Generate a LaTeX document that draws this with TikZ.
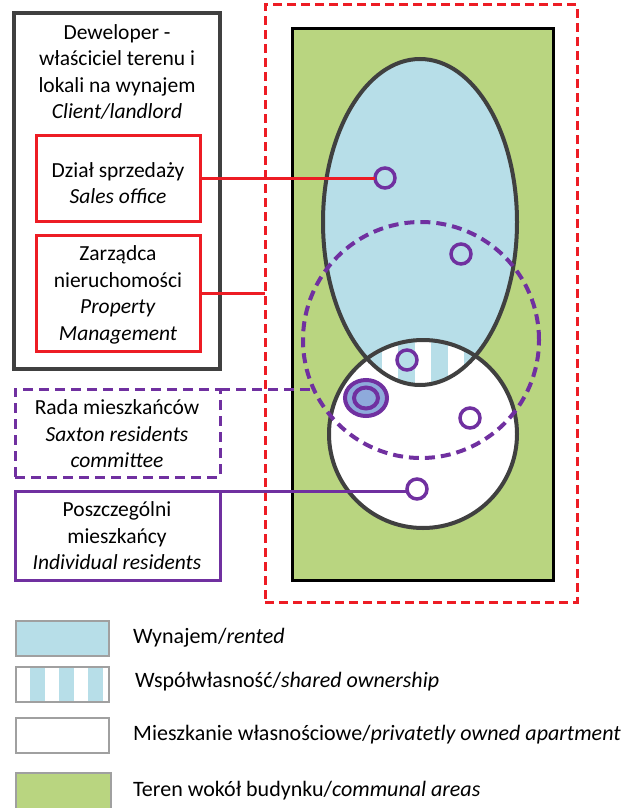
\documentclass[tikz,border=0pt]{standalone}
\usepackage{fontspec}
\setmainfont{Carlito}
\usetikzlibrary{shapes.geometric}
\definecolor{rentblue}{RGB}{183,222,232}
\definecolor{grassgreen}{RGB}{185,213,128}
\definecolor{violetline}{RGB}{112,48,160}
\definecolor{redline}{RGB}{237,28,36}
\definecolor{darkline}{RGB}{64,64,64}
\definecolor{midblue}{RGB}{142,170,219}
\definecolor{leggray}{RGB}{160,160,160}
\begin{document}
\begin{tikzpicture}[x=1pt,y=-1pt,
  lbl/.style={align=center, font=\fontsize{21.5}{26.5}\selectfont, inner sep=0pt},
  legtxt/.style={anchor=west, font=\fontsize{22}{26}\selectfont, inner sep=0pt},
  frame/.style={inner sep=0pt, outer sep=0pt, anchor=north west},
  devbox/.style={frame, draw=darkline, line width=3.5pt},
  redbox/.style={frame, draw=redline, line width=3pt, minimum width=164pt},
  purplebox/.style={frame, draw=violetline, line width=3pt, minimum width=205pt},
  legbox/.style={frame, draw=leggray, line width=1.2pt, minimum width=93pt, minimum height=35pt},
  flat/.style={draw=violetline, line width=3.5pt, circle, minimum size=20pt, inner sep=0pt, outer sep=0pt},
  purpledash/.style={dash pattern=on 10pt off 6pt},
  reddash/.style={dash pattern=on 9pt off 5pt}
]
\useasboundingbox (0,0) rectangle (626,808);

% site
\node[frame, draw=redline, line width=3pt, reddash, minimum width=312pt, minimum height=597pt] (site) at (265,5) {};
\node[frame, draw=black, fill=grassgreen, line width=3pt, minimum width=261pt, minimum height=551pt] (green) at (292,29) {};

% rented ellipse and owned circle fills
\fill[rentblue] (420,222) ellipse [x radius=97, y radius=163];
\fill[white] (423,434) circle [radius=94];
\begin{scope}
  \clip (420,222) ellipse [x radius=97, y radius=163];
  \clip (423,434) circle [radius=94];
  \fill[white] (320,330) rectangle (520,400);
  \foreach \sx in {365,398,431,464} {\fill[rentblue] (\sx,330) rectangle (\sx+16.5,400);}
\end{scope}
\node[draw=darkline, line width=4pt, ellipse, minimum width=194pt, minimum height=326pt, inner sep=0pt] (rented) at (420,222) {};
\node[draw=darkline, line width=4pt, circle, minimum size=188pt, inner sep=0pt] (owned) at (423,434) {};

% residents council dashed circle
\node[draw=violetline, line width=4pt, purpledash, circle, minimum size=236pt, inner sep=0pt, outer sep=0pt] (council) at (421,340) {};

% small apartment circles
\node[flat] (c1) at (385,178) {};
\node[flat] (c2) at (461,254) {};
\node[flat] (c3) at (407,360) {};
\node[draw=violetline, line width=4pt, fill=midblue, ellipse, minimum width=42pt, minimum height=36pt, inner sep=0pt] (c4) at (366,398) {};
\node[draw=violetline, line width=4pt, fill=midblue, ellipse, minimum width=24pt, minimum height=21pt, inner sep=0pt] (c4in) at (366,398) {};
\node[flat] (c5) at (470,418) {};
\node[flat] (c6) at (417,489) {};

% left boxes
\node[devbox, minimum width=206pt, minimum height=356pt] (dev) at (14,13) {};
\node[lbl] (devtxt) at (117,72) {Deweloper -\\właściciel terenu i\\lokali na wynajem\\\textit{Client/landlord}};

\node[redbox, minimum height=86pt] (sales) at (36,135) {};
\node[lbl] (salestxt) at (118,183) {Dział sprzedaży\\\textit{Sales office}};

\node[redbox, minimum height=116pt] (pm) at (36,235) {};
\node[lbl] (pmtxt) at (118,295) {Zarządca\\nieruchomości\\\textit{Property}\\\textit{Management}};

\node[purplebox, purpledash, minimum height=88pt] (rada) at (15,389) {};
\node[lbl] (radatxt) at (117,434) {Rada mieszkańców\\\textit{Saxton residents}\\\textit{committee}};

\node[purplebox, minimum height=89pt] (indiv) at (15,491) {};
\node[lbl] (indivtxt) at (117,536) {Poszczególni\\mieszkańcy\\\textit{Individual residents}};

% connectors
\draw[redline, line width=3pt] (sales.east) -- (c1.west);
\draw[redline, line width=3pt] (pm.east) -- (pm.east -| site.west);
\draw[violetline, line width=3pt, purpledash] (rada.north east) -- (rada.north east -| council.204);
\draw[violetline, line width=3pt] (indiv.north east) -- (indiv.north east -| c6.west);

% legend
\node[legbox, fill=rentblue] (l1) at (16,621) {};
\node[legtxt] (l1t) at (133,638) {Wynajem/\textit{rented}};

\fill[white] (16,667) rectangle (109,702);
\foreach \sx in {30,59,88} {\fill[rentblue] (\sx,667) rectangle (\sx+14.5,702);}
\node[legbox] (l2) at (16,667) {};
\node[legtxt] (l2t) at (135,682) {Współwłasność/\textit{shared ownership}};

\node[legbox] (l3) at (16,718) {};
\node[legtxt] (l3t) at (133,735) {Mieszkanie własnościowe/\textit{privatetly owned apartment}};

\node[legbox, fill=grassgreen, minimum width=95pt, minimum height=37pt] (l4) at (16,773) {};
\node[legtxt] (l4t) at (133,791) {Teren wokół budynku/\textit{communal areas}};
\end{tikzpicture}
\end{document}
